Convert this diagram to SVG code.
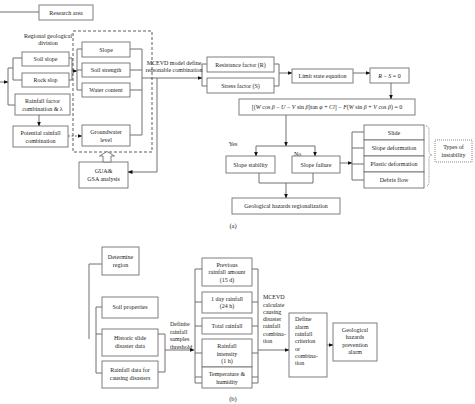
<svg xmlns="http://www.w3.org/2000/svg" width="475" height="404" viewBox="0 0 475 404">
<defs>
<style>
.b{fill:#fff;stroke:#707070;stroke-width:0.9}
.l{fill:none;stroke:#707070;stroke-width:1}
.d{fill:none;stroke:#333;stroke-width:0.8;stroke-dasharray:3,2}
.o{fill:none;stroke:#555;stroke-width:0.7;stroke-dasharray:1,1}
text{font-family:"Liberation Serif","Times New Roman",serif;font-size:6px;fill:#222;text-anchor:middle}
.s{text-anchor:start}
.i{font-style:italic}
</style>
<marker id="a" markerUnits="userSpaceOnUse" markerWidth="5" markerHeight="4" refX="4.5" refY="2" orient="auto"><path d="M0,0L5,2L0,4z" fill="#111"/></marker>
</defs>
<rect width="475" height="404" fill="#fff"/>
<g id="connectors">
<path class="l" d="M0,12H39"/>
<path class="l" d="M0,82H8" marker-end="url(#a)"/>
<path class="l" d="M8,68V105H15M8,68H13M13,58V80M13,58H22M13,80H22"/>
<path class="l" d="M69,58H72V80H69"/>
<path class="l" d="M72,71H77" marker-end="url(#a)"/>
<path class="l" d="M82,49H77V90H82M77,70H82"/>
<path class="l" d="M39,115V126" marker-end="url(#a)"/>
<path class="l" d="M68,136H82" stroke-dasharray="2,1.5" marker-end="url(#a)"/>
<path class="l" d="M130,49H142V135H130M130,70H142M130,90H142"/>
<path class="l" d="M142,78H202" marker-end="url(#a)"/>
<path class="l" d="M157,78V172H128" marker-end="url(#a)"/>
<path class="l" d="M207,64H202V86H207"/>
<path class="l" d="M274,64H279V86H274"/>
<path class="l" d="M279,73H292" marker-end="url(#a)"/>
<path class="l" d="M353,73H370" marker-end="url(#a)"/>
<path class="l" d="M391,83V99" marker-end="url(#a)"/>
<path class="l" d="M286,115V146" marker-end="url(#a)"/>
<path class="l" d="M256,146H315"/>
<path class="l" d="M256,146V156" marker-end="url(#a)"/>
<path class="l" d="M315,146V156" marker-end="url(#a)"/>
<path class="l" d="M340,163H352" marker-end="url(#a)"/>
<path class="l" d="M364,132H352V180H364M352,148H364M352,164H364"/>
<path class="l" d="M259,173V183M313,173V183M259,183H313"/>
<path class="l" d="M286,183V198" marker-end="url(#a)"/>
<path class="o" d="M426,126Q429,126 429,130V150Q429,155 432,155Q429,155 429,160V182Q429,186 426,186"/>
<path class="l" d="M102,264H89V339"/>
<path class="l" d="M102,307H96V373H102M96,334H102"/>
<path class="l" d="M158,334H165V372H158"/>
<path class="l" d="M165,350H194" marker-end="url(#a)"/>
<path class="l" d="M202,269H195V383H202M195,302H202M195,326H202M195,353H202M195,377H202"/>
<path class="l" d="M252,269H258V383H252M252,302H258M252,326H258M252,353H258M252,377H258"/>
<path class="l" d="M258,350H289" marker-end="url(#a)"/>
<path class="l" d="M327,345H333" marker-end="url(#a)"/>
</g>
<g id="research-area"><rect class="b" x="39" y="5" width="54" height="15"/><text x="66" y="14.5">Research area</text></g>
<g id="regional-label"><text x="48" y="38">Regional geological</text><text x="48" y="45">division</text></g>
<g id="factor-group"><rect class="d" x="73" y="31" width="79" height="121"/></g>
<g id="soil-slope"><rect class="b" x="22" y="52" width="47" height="14"/><text x="45.5" y="61">Soil slope</text></g>
<g id="rock-slop"><rect class="b" x="22" y="73" width="47" height="14"/><text x="45.5" y="82">Rock slop</text></g>
<g id="rainfall-factor"><rect class="b" x="15" y="94" width="55" height="21"/><text x="42.5" y="103">Rainfall factor</text><text x="42.5" y="111">combination &amp; λ</text></g>
<g id="potential-rainfall"><rect class="b" x="13" y="126" width="55" height="21"/><text x="40.5" y="134.5">Potential rainfall</text><text x="40.5" y="142.5">combination</text></g>
<g id="slope"><rect class="b" x="82" y="42" width="48" height="15"/><text x="106" y="51.5">Slope</text></g>
<g id="soil-strength"><rect class="b" x="82" y="63" width="48" height="14"/><text x="106" y="72">Soil strength</text></g>
<g id="water-content"><rect class="b" x="82" y="83" width="48" height="14"/><text x="106" y="92">Water content</text></g>
<g id="groundwater"><rect class="b" x="82" y="125" width="48" height="21"/><text x="106" y="133.5">Groundwater</text><text x="106" y="141.5">level</text></g>
<g id="mcevd-label"><text x="174" y="64.5">MCEVD model define</text><text x="174" y="72">reasonable combination</text></g>
<g id="gua-gsa"><rect class="b" x="79" y="162" width="49" height="26"/><text x="103.5" y="172.5">GUA&amp;</text><text x="103.5" y="180.5">GSA analysis</text>
<polygon points="103,162 103,156 99.5,156 107,151.5 114.5,156 111,156 111,162" fill="#fff" stroke="#707070" stroke-width="0.9"/></g>
<g id="resistance"><rect class="b" x="207" y="57" width="67" height="15"/><text x="240.5" y="66.5">Resistance factor (R)</text></g>
<g id="stress"><rect class="b" x="207" y="78" width="67" height="15"/><text x="240.5" y="87.5">Stress factor (S)</text></g>
<g id="limit-state"><rect class="b" x="292" y="69" width="61" height="14"/><text x="322.5" y="78">Limit state equation</text></g>
<g id="r-s"><rect class="b" x="370" y="68" width="39" height="15"/><text x="389.5" y="77.5"><tspan class="i">R</tspan> − <tspan class="i">S</tspan> = 0</text></g>
<g id="equation"><rect class="b" x="239" y="99" width="176" height="16"/><text x="327" y="109.2">[(<tspan class="i">W</tspan> cos <tspan class="i">β</tspan> − <tspan class="i">U</tspan> − <tspan class="i">V</tspan> sin <tspan class="i">β</tspan>)tan <tspan class="i">φ</tspan> + <tspan class="i">Cl</tspan>] − <tspan class="i">F</tspan>(<tspan class="i">W</tspan> sin <tspan class="i">β</tspan> + <tspan class="i">V</tspan> cos <tspan class="i">β</tspan>) = 0</text></g>
<g id="yes-label"><text x="233" y="145.5">Yes</text></g>
<g id="no-label"><text class="s" x="294" y="155.5">No</text></g>
<g id="slope-stability"><rect class="b" x="226" y="156" width="49" height="17"/><text x="250.5" y="166.5">Slope stability</text></g>
<g id="slope-failure"><rect class="b" x="292" y="156" width="48" height="17"/><text x="316" y="166.5">Slope failure</text></g>
<g id="slide"><rect class="b" x="364" y="125" width="60" height="15"/><text x="394" y="134.5">Slide</text></g>
<g id="slope-deformation"><rect class="b" x="364" y="140" width="60" height="16"/><text x="394" y="150">Slope deformation</text></g>
<g id="plastic-deformation"><rect class="b" x="364" y="156" width="60" height="16"/><text x="394" y="166">Plastic deformation</text></g>
<g id="debris-flow"><rect class="b" x="364" y="172" width="60" height="16"/><text x="394" y="182">Debris flow</text></g>
<g id="types-of-instability"><rect class="o" x="435" y="140" width="37" height="22"/><text x="453.5" y="149">Types of</text><text x="453.5" y="156.5">instability</text></g>
<g id="regionalization"><rect class="b" x="232" y="198" width="108" height="16"/><text x="286" y="208">Geological hazards regionalization</text></g>
<g id="label-a"><text x="233" y="227.5" style="font-size:6.5px">(a)</text></g>
<g id="determine-region"><rect class="b" x="102" y="247" width="37" height="28"/><text x="120.5" y="258.5">Determine</text><text x="120.5" y="266.5">region</text></g>
<g id="soil-properties"><rect class="b" x="102" y="297" width="56" height="21"/><text x="130" y="309">Soil properties</text></g>
<g id="historic-slide"><rect class="b" x="102" y="329" width="56" height="27"/><text x="130" y="340">Historic slide</text><text x="130" y="348">disaster data</text></g>
<g id="rainfall-data"><rect class="b" x="102" y="361" width="56" height="27"/><text x="130" y="372">Rainfall data for</text><text x="130" y="380">causing disasters</text></g>
<g id="definite-label"><text class="s" x="170" y="326">Definite</text><text class="s" x="170" y="333.5">rainfall</text><text class="s" x="170" y="341">samples</text><text class="s" x="170" y="348.5">threshold</text></g>
<g id="previous-rainfall"><rect class="b" x="202" y="258" width="50" height="28"/><text x="227" y="266.5">Previous</text><text x="227" y="274">rainfall amount</text><text x="227" y="281.5">(15 d)</text></g>
<g id="one-day-rainfall"><rect class="b" x="202" y="292" width="50" height="21"/><text x="227" y="300.5">1 day rainfall</text><text x="227" y="308">(24 h)</text></g>
<g id="total-rainfall"><rect class="b" x="202" y="318" width="50" height="16"/><text x="227" y="328">Total rainfall</text></g>
<g id="rainfall-intensity"><rect class="b" x="202" y="339" width="50" height="28"/><text x="227" y="348">Rainfall</text><text x="227" y="355.5">intensity</text><text x="227" y="363">(1 h)</text></g>
<g id="temperature"><rect class="b" x="202" y="367" width="50" height="21"/><text x="227" y="376">Temperature &amp;</text><text x="227" y="383.5">humidity</text></g>
<g id="mcevd-calc-label"><text class="s" x="263" y="299">MCEVD</text><text class="s" x="263" y="306.5">calculate</text><text class="s" x="263" y="314">causing</text><text class="s" x="263" y="321">disaster</text><text class="s" x="263" y="328">rainfall</text><text class="s" x="263" y="335.5">combina-</text><text class="s" x="263" y="343">tion</text></g>
<g id="define-alarm"><rect class="b" x="289" y="313" width="38" height="64"/><text class="s" x="295" y="321">Define</text><text class="s" x="295" y="328.5">alarm</text><text class="s" x="295" y="336">rainfall</text><text class="s" x="295" y="343">criterion</text><text class="s" x="295" y="350.5">or</text><text class="s" x="295" y="358">combina-</text><text class="s" x="295" y="365">tion</text></g>
<g id="prevention-alarm"><rect class="b" x="333" y="323" width="44" height="38"/><text x="355" y="332">Geological</text><text x="355" y="339">hazards</text><text x="355" y="346.5">prevention</text><text x="355" y="354">alarm</text></g>
<g id="label-b"><text x="233" y="400.5" style="font-size:6.5px">(b)</text></g>
</svg>
